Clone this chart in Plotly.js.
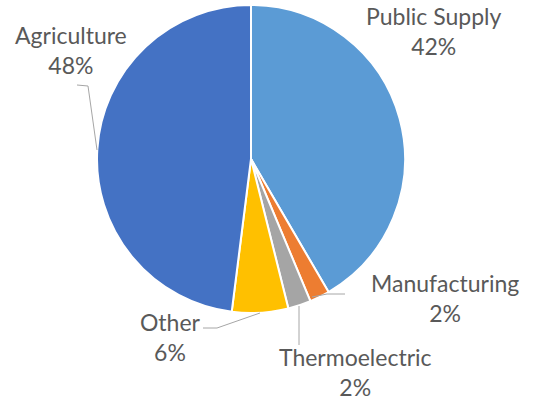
<!DOCTYPE html>
<html>
<head>
<meta charset="utf-8">
<script src="https://cdn.plot.ly/plotly-3.0.1.min.js"></script>
<style>html,body{margin:0;padding:0;background:#fff;}#chart{width:533px;height:404px;}</style>
</head>
<body>
<div id="chart"></div>
<script>
const categories = ["Public Supply", "Manufacturing", "Thermoelectric", "Other", "Agriculture"];
const values = [41.6, 2.1, 2.4, 5.9, 48.0];
const colors = ["#5B9BD5", "#ED7D31", "#A5A5A5", "#FFC000", "#4472C4"];

const W = 533, H = 404;
const px = x => x / W;
const py = y => 1 - y / H;

const total = values.reduce((a, b) => a + b, 0);
const pctText = values.map(v => Math.round(v / total * 100) + "%");

// label block centres (pixels)
const labelPos = [
  [434, 31],
  [445, 298],
  [355, 372],
  [170, 337],
  [71, 50]
];
// leader line paths (pixels)
const leaders = [
  null,
  [[312, 297], [327, 294], [345, 294]],
  [[299, 306], [299, 345]],
  [[260, 313], [217, 328], [203, 328]],
  [[97, 150], [88, 86], [77, 85]]
];

const annotations = categories.map((c, i) => ({
  xref: "paper", yref: "paper",
  x: px(labelPos[i][0]), y: py(labelPos[i][1]),
  xanchor: "center", yanchor: "middle",
  text: c + "<br>" + pctText[i],
  showarrow: false,
  align: "center",
  font: {family: "Lato, 'Liberation Sans', sans-serif", size: 23, color: "#595959"}
}));

const shapes = leaders.filter(l => l).map(l => ({
  type: "path",
  xref: "paper", yref: "paper",
  path: l.map((p, j) => (j ? "L" : "M") + px(p[0]) + "," + py(p[1])).join(" "),
  line: {color: "#A6A6A6", width: 1}
}));

const trace = {
  type: "pie",
  labels: categories,
  values: values,
  sort: false,
  direction: "clockwise",
  rotation: 0,
  textinfo: "none",
  hoverinfo: "label+percent",
  marker: {colors: colors, line: {color: "#FFFFFF", width: 2}},
  domain: {x: [px(97), px(405)], y: [py(313), py(5)]},
  showlegend: false
};

Plotly.newPlot("chart", [trace], {
  width: W, height: H,
  margin: {l: 0, r: 0, t: 0, b: 0},
  paper_bgcolor: "#FFFFFF",
  showlegend: false,
  annotations: annotations,
  shapes: shapes
}, {displayModeBar: false, staticPlot: true});
</script>
</body>
</html>
